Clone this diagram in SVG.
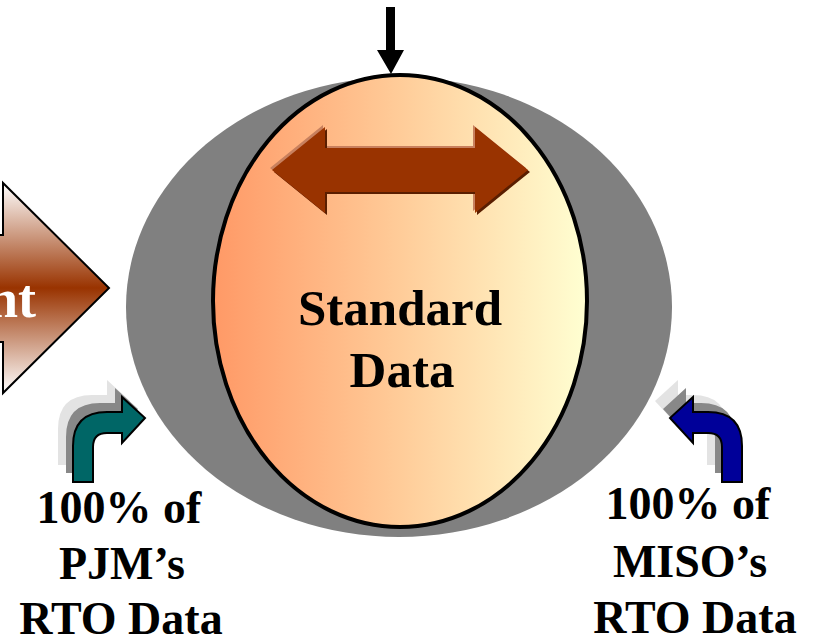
<svg xmlns="http://www.w3.org/2000/svg" width="813" height="637" viewBox="0 0 813 637">
<defs>
<linearGradient id="gEgg" x1="0" y1="0" x2="1" y2="0">
<stop offset="0" stop-color="#FF9966"/>
<stop offset="0.5" stop-color="#FFCC99"/>
<stop offset="1" stop-color="#FFFFD2"/>
</linearGradient>
<linearGradient id="gBig" x1="0" y1="0" x2="0" y2="1">
<stop offset="0" stop-color="#FFFFFF"/>
<stop offset="0.5" stop-color="#993300"/>
<stop offset="1" stop-color="#FFFFFF"/>
</linearGradient>
<path id="bent" d="M73,482 L73,446 Q73,412 107,412 L122,412 L122,397 L145,418 L122,443 L122,433 L107,433 Q93,433 93,447 L93,482 Z"/>
<path id="dbl" d="M272,170 L325,127 L325,148 L475,148 L475,127 L528,170 L475,213 L475,192 L325,192 L325,213 Z"/>
</defs>
<style>
.lbl{font-family:"Liberation Serif","Times New Roman",serif;font-weight:bold;fill:#000;text-anchor:middle}
.sh1{fill:#E3E3E3}
.sh2{fill:#888888}
.arr{stroke:#000;stroke-width:2;stroke-linejoin:miter}
</style>
<g id="sphere">
<ellipse cx="399" cy="307" rx="273" ry="230" fill="#808080"/>
</g>
<g id="standard-data">
<ellipse cx="400" cy="301" rx="187" ry="226" fill="url(#gEgg)" stroke="#000" stroke-width="4"/>
<g id="double-arrow">
<use href="#dbl" transform="translate(-2,-2)" fill="#C8805E"/>
<use href="#dbl" transform="translate(2,2)" fill="#5A1E00"/>
<use href="#dbl" fill="#993300"/>
</g>
<text class="lbl" x="400" y="325" font-size="51">Standard</text>
<text class="lbl" x="402" y="387" font-size="51">Data</text>
</g>
<g id="connectors">
<g id="top-arrow">
<path d="M386,7 L395,7 L395,50 L404,50 L391,74 L377,50 L386,50 Z" fill="#000"/>
</g>
<g id="left-block-arrow">
<path d="M-10,235 L3,235 L3,183 L109,288 L3,393 L3,342 L-10,342 Z" fill="url(#gBig)" stroke="#000" stroke-width="2"/>
<text x="36" y="317" font-size="54" font-family="Liberation Serif, serif" font-weight="bold" fill="#FFFFFF" text-anchor="end">nt</text>
</g>
<g id="pjm-arrow">
<use href="#bent" class="sh1" transform="translate(-15,-17)"/>
<use href="#bent" class="sh2" transform="translate(-7,-9)"/>
<use href="#bent" class="arr" fill="#006666"/>
</g>
<g id="miso-arrow">
<use href="#bent" class="sh1" transform="translate(-15,-17) translate(815,0) scale(-1,1)"/>
<use href="#bent" class="sh2" transform="translate(-7,-9) translate(815,0) scale(-1,1)"/>
<use href="#bent" class="arr" fill="#000099" transform="translate(815,0) scale(-1,1)"/>
</g>
</g>
<g id="pjm-label">
<text class="lbl" x="119" y="523" font-size="46">100% of</text>
<text class="lbl" x="122" y="579" font-size="46">PJM’s</text>
<text class="lbl" x="121" y="634" font-size="46">RTO Data</text>
</g>
<g id="miso-label">
<text class="lbl" x="688" y="519" font-size="46">100% of</text>
<text class="lbl" x="690" y="577" font-size="46">MISO’s</text>
<text class="lbl" x="695" y="633" font-size="46">RTO Data</text>
</g>
</svg>
